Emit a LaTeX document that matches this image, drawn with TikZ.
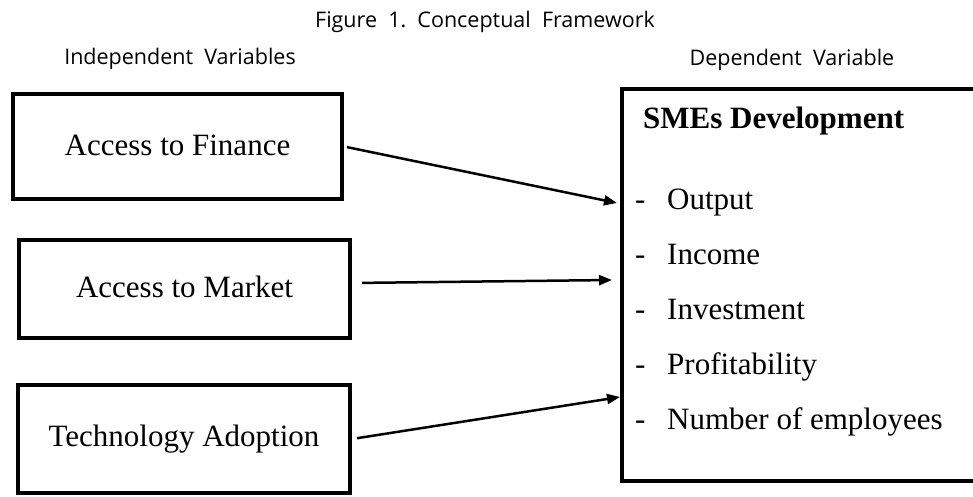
\documentclass[tikz,border=0pt]{standalone}
\usepackage{fontspec}
\setmainfont{Liberation Serif}
\newfontfamily\sansf{Open Sans}
\usetikzlibrary{arrows.meta}
\begin{document}
\begin{tikzpicture}[x=1pt,y=-1pt,
  box/.style={draw, line width=4pt, inner sep=0pt},
  lbl/.style={inner sep=0pt, font=\sansf\fontsize{21.5}{25}\selectfont},
  boxtxt/.style={font=\fontsize{31}{36}\selectfont},
  itemtxt/.style={inner sep=0pt, anchor=base west, font=\fontsize{31}{36}\selectfont},
  conn/.style={line width=2.5pt, -{Triangle[length=13pt,width=10pt]}}]
\useasboundingbox (0,0) rectangle (973,497);
\clip (0,0) rectangle (973,497);
\fill[white] (0,0) rectangle (973,497);
% titles
\node[lbl, anchor=base] (title) at (485,28) {Figure\ \ 1.\ \ Conceptual\ \ Framework};
\node[lbl, anchor=base] (indep) at (180,65) {Independent\ \ Variables};
\node[lbl, anchor=base] (depl) at (792,66) {Dependent\ \ Variable};
% left boxes
\node[box, boxtxt, minimum width=329pt, minimum height=105pt] (fin) at (177.5,146.5) {\raisebox{3pt}{Access to Finance}};
\node[box, boxtxt, minimum width=331pt, minimum height=98pt] (mkt) at (184.5,289) {\raisebox{4pt}{Access to Market}};
\node[box, boxtxt, minimum width=332pt, minimum height=108pt] (tech) at (184,439) {\raisebox{2pt}{Technology Adoption}};
% right box (its right side lies beyond the picture)
\node[box, minimum width=420pt, minimum height=392pt] (dep) at (832,285) {};
\node[itemtxt] (head) at (643,129) {\textbf{SMEs Development}};
\node[itemtxt] (i1) at (635,209) {\makebox[32pt][l]{-}Output};
\node[itemtxt] (i2) at (635,264) {\makebox[32pt][l]{-}Income};
\node[itemtxt] (i3) at (635,319) {\makebox[32pt][l]{-}Investment};
\node[itemtxt] (i4) at (635,374) {\makebox[32pt][l]{-}Profitability};
\node[itemtxt] (i5) at (635,429) {\makebox[32pt][l]{-}Number of employees};
% arrow targets on the left side of the dependent box
\coordinate (e1) at (617,203);
\coordinate (e2) at (612,280);
\coordinate (e3) at (620,397);
\draw[conn, shorten <=3pt] (fin.east) -- (e1);
\draw[conn, shorten <=10pt] (mkt.east |- 0,283) -- (e2);
\draw[conn, shorten <=5pt] (tech.east) -- (e3);
\end{tikzpicture}
\end{document}
